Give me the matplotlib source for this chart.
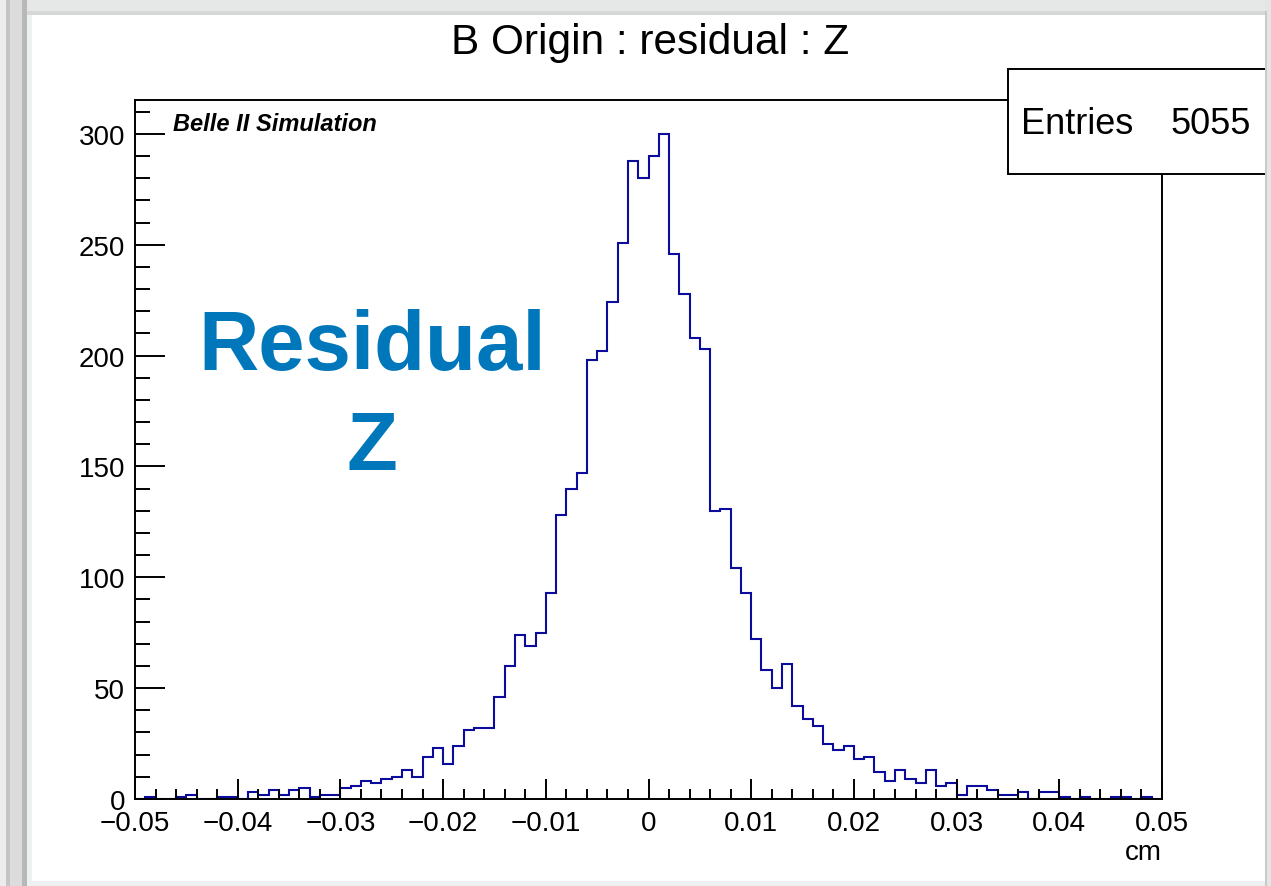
import numpy as np
import matplotlib

matplotlib.use("Agg")
import matplotlib.pyplot as plt
from matplotlib.patches import Rectangle
from matplotlib.ticker import FuncFormatter, MultipleLocator

plt.rcParams["font.family"] = ["Liberation Sans", "DejaVu Sans"]

W, H = 1271, 887

# histogram: 100 bins between -0.05 and 0.05 cm
x_min, x_max, n_bins = -0.05, 0.05, 100
counts = [
    0, 1, 0, 0, 1, 2, 0, 0, 1, 1,
    0, 3, 2, 4, 2, 4, 5, 1, 2, 2,
    5, 6, 8, 7, 9, 10, 13, 10, 19, 23,
    16, 24, 31, 32, 32, 46, 60, 74, 69, 75,
    93, 128, 140, 147, 198, 202, 224, 251, 288, 280,
    290, 300, 246, 228, 208, 203, 130, 131, 104, 93,
    72, 58, 50, 61, 42, 36, 33, 25, 22, 24,
    18, 19, 12, 8, 13, 9, 7, 13, 6, 7,
    2, 6, 6, 4, 2, 2, 3, 0, 3, 3,
    1, 0, 1, 0, 0, 1, 1, 0, 1, 0,
]
entries = 5055

title = "B Origin : residual : Z"
x_label = "cm"
tag_text = "Belle II Simulation"
big_text = "Residual\nZ"
y_ticks = [0, 50, 100, 150, 200, 250, 300]
x_ticks = [-0.05, -0.04, -0.03, -0.02, -0.01, 0.0, 0.01, 0.02, 0.03, 0.04, 0.05]

line_color = "#0c0c9c"
big_color = "#0077bb"


def px_rect(x0, y0, x1, y1, **kw):
    # pixel box (top-left origin) -> figure-fraction rectangle
    return Rectangle((x0 / W, 1 - y1 / H), (x1 - x0) / W, (y1 - y0) / H,
                     transform=fig.transFigure, **kw)


fig = plt.figure(figsize=(W / 100, H / 100), dpi=100)
fig.patch.set_facecolor("#e2e4e4")

# screenshot frame around the canvas
for box, col in [
    ((0, 0, 6, H), "#ececec"),
    ((6, 0, 10, H), "#c4c4c4"),
    ((10, 0, 22, H), "#dcdcdc"),
    ((22, 0, 27, H), "#b8b8b8"),
    ((27, 15, 32, H), "#edf1f1"),
    ((27, 0, W, 12), "#e6e8e8"),
    ((27, 12, W, 16), "#d6d8d8"),
]:
    fig.add_artist(px_rect(*box, facecolor=col, edgecolor="none", zorder=-3))
fig.add_artist(px_rect(32, 16, 1265, 882, facecolor="white", edgecolor="none", zorder=-2))

left, right, top, bottom = 135, 1162, 101, 800
ax = fig.add_axes([left / W, 1 - bottom / H, (right - left) / W, (bottom - top) / H])

edges = np.linspace(x_min, x_max, n_bins + 1)
ax.stairs(counts, edges, color=line_color, linewidth=1.5, baseline=0)

ax.set_xlim(x_min, x_max)
ax.set_ylim(0, 315.3)

for s in ax.spines.values():
    s.set_linewidth(1.4)

ax.set_xticks(x_ticks)
ax.set_yticks(y_ticks)
ax.xaxis.set_minor_locator(MultipleLocator(0.002))
ax.yaxis.set_minor_locator(MultipleLocator(10))
ax.xaxis.set_major_formatter(FuncFormatter(lambda v, p: f"{v:g}".replace("-", "\u2212")))
ax.yaxis.set_major_formatter(FuncFormatter(lambda v, p: f"{v:g}"))
ax.tick_params(axis="both", which="both", direction="in", top=False, right=False,
               width=1.4, labelsize=20)
ax.tick_params(axis="y", which="major", length=21.5, pad=7)
ax.tick_params(axis="y", which="minor", length=10.8)
ax.tick_params(axis="x", which="major", length=14.4, pad=8)
ax.tick_params(axis="x", which="minor", length=7.2)

ax.set_xlabel(x_label, fontsize=20, loc="right", labelpad=2)

fig.text(650 / W, 1 - 43 / H, title, ha="center", va="center", fontsize=30.5)

ax.text(173 / W, 1 - 125 / H, tag_text, transform=fig.transFigure, ha="left",
        va="center", fontsize=17, fontweight="bold", fontstyle="italic")

fig.text(372 / W, 1 - 398 / H, big_text, ha="center", va="center", fontsize=60,
         fontweight="bold", color=big_color, linespacing=1.37)

# stats box, cut off by the right frame
fig.add_artist(px_rect(1008, 70, 1290, 175, facecolor="white", edgecolor="black",
                       linewidth=1.4, zorder=5))
fig.text(1021 / W, 1 - 124 / H, "Entries", ha="left", va="center", fontsize=26, zorder=6)
fig.text(1251 / W, 1 - 124 / H, f"{entries}", ha="right", va="center", fontsize=26, zorder=6)

fig.add_artist(px_rect(1265, 0, W, H, facecolor="#e4e6e6", edgecolor="none", zorder=7))
fig.add_artist(px_rect(1265, 12, 1267, H, facecolor="#c9cbcb", edgecolor="none", zorder=7))
fig.add_artist(px_rect(32, 882, 1265, H, facecolor="#edf1f1", edgecolor="none", zorder=7))

fig.savefig("out.png", dpi=100, facecolor=fig.get_facecolor())
